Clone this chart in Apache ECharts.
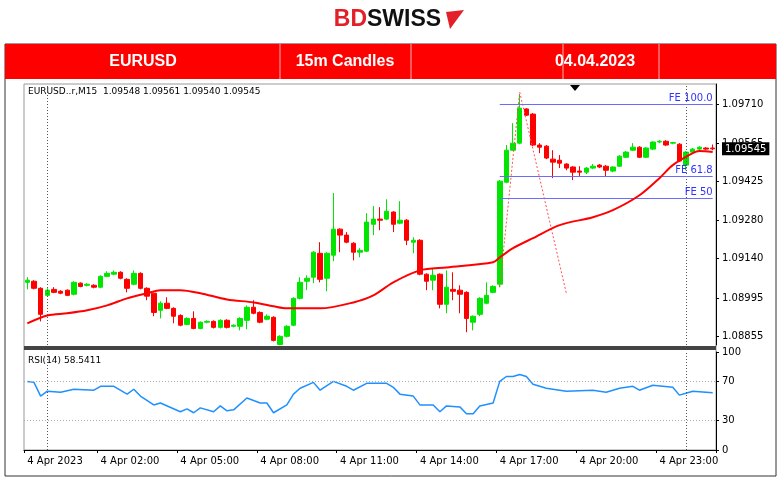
<!DOCTYPE html>
<html><head><meta charset="utf-8">
<script src="https://cdn.jsdelivr.net/npm/echarts@6/dist/echarts.min.js"></script>
<style>html,body{margin:0;padding:0;background:#fff}#c{width:780px;height:483px}</style>
</head><body><div id="c"></div>
<script>
const openP=[1.09053,1.09057,1.09031,1.09005,1.09027,1.09020,1.09024,1.09009,1.09050,1.09042,1.09042,1.09035,1.09075,1.09083,1.09090,1.09064,1.09046,1.09086,1.09031,1.09013,1.08950,1.08976,1.08957,1.08931,1.08898,1.08920,1.08883,1.08906,1.08909,1.08887,1.08913,1.08891,1.08891,1.08913,1.08961,1.08942,1.08917,1.08924,1.08824,1.08854,1.08895,1.08994,1.09057,1.09072,1.09160,1.09068,1.09153,1.09249,1.09227,1.09197,1.09164,1.09168,1.09267,1.09286,1.09286,1.09312,1.09271,1.09282,1.09201,1.09208,1.09083,1.09061,1.09083,1.08972,1.09027,1.09024,1.09016,1.08906,1.08935,1.08976,1.09016,1.09046,1.09422,1.09540,1.09566,1.09692,1.09673,1.09559,1.09555,1.09507,1.09503,1.09489,1.09478,1.09463,1.09459,1.09474,1.09485,1.09481,1.09463,1.09481,1.09514,1.09540,1.09551,1.09514,1.09544,1.09570,1.09573,1.09566,1.09562,1.09485,1.09533,1.09544,1.09548,1.09548];
const highP=[1.09072,1.09061,1.09035,1.09031,1.09035,1.09024,1.09027,1.09057,1.09053,1.09050,1.09046,1.09079,1.09094,1.09097,1.09094,1.09068,1.09097,1.09090,1.09035,1.09016,1.08983,1.08998,1.08961,1.08935,1.08924,1.08946,1.08909,1.08913,1.08913,1.08917,1.08917,1.08898,1.08924,1.08968,1.08987,1.08946,1.08935,1.08928,1.08858,1.08895,1.08998,1.09072,1.09079,1.09168,1.09201,1.09164,1.09382,1.09252,1.09238,1.09201,1.09179,1.09308,1.09334,1.09330,1.09359,1.09315,1.09352,1.09286,1.09219,1.09212,1.09086,1.09105,1.09086,1.09097,1.09090,1.09042,1.09020,1.08931,1.08998,1.09053,1.09042,1.09430,1.09559,1.09640,1.09747,1.09695,1.09677,1.09566,1.09559,1.09540,1.09522,1.09492,1.09481,1.09481,1.09478,1.09489,1.09489,1.09485,1.09481,1.09522,1.09537,1.09566,1.09555,1.09551,1.09573,1.09577,1.09577,1.09570,1.09566,1.09537,1.09548,1.09555,1.09551,1.09561];
const lowP=[1.09027,1.09027,1.08909,1.09002,1.09013,1.09009,1.09002,1.09005,1.09035,1.09038,1.09031,1.09031,1.09072,1.09079,1.09064,1.09016,1.09042,1.09027,1.08987,1.08928,1.08920,1.08954,1.08902,1.08891,1.08895,1.08880,1.08880,1.08902,1.08883,1.08883,1.08883,1.08887,1.08876,1.08880,1.08935,1.08902,1.08913,1.08835,1.08821,1.08850,1.08891,1.08990,1.09024,1.09050,1.09053,1.09020,1.09131,1.09164,1.09197,1.09134,1.09145,1.09164,1.09227,1.09245,1.09282,1.09238,1.09267,1.09190,1.09160,1.09079,1.09024,1.09024,1.08957,1.08939,1.08987,1.08939,1.08869,1.08876,1.08928,1.08972,1.09013,1.09035,1.09418,1.09537,1.09562,1.09666,1.09555,1.09529,1.09507,1.09437,1.09474,1.09466,1.09430,1.09441,1.09452,1.09470,1.09474,1.09444,1.09459,1.09478,1.09511,1.09537,1.09511,1.09511,1.09540,1.09566,1.09555,1.09562,1.09496,1.09466,1.09529,1.09540,1.09540,1.09540];
const closeP=[1.09061,1.09031,1.08935,1.09024,1.09016,1.09013,1.09005,1.09053,1.09038,1.09046,1.09035,1.09075,1.09086,1.09090,1.09068,1.09031,1.09086,1.09031,1.09002,1.08942,1.08976,1.08957,1.08928,1.08895,1.08920,1.08883,1.08906,1.08909,1.08887,1.08913,1.08887,1.08895,1.08920,1.08961,1.08939,1.08906,1.08928,1.08839,1.08854,1.08891,1.08994,1.09053,1.09068,1.09164,1.09064,1.09160,1.09249,1.09227,1.09201,1.09164,1.09171,1.09275,1.09286,1.09282,1.09315,1.09267,1.09282,1.09208,1.09208,1.09083,1.09057,1.09079,1.08972,1.09035,1.09020,1.09009,1.08920,1.08928,1.08994,1.09005,1.09038,1.09426,1.09540,1.09566,1.09695,1.09669,1.09559,1.09551,1.09511,1.09496,1.09492,1.09474,1.09459,1.09459,1.09474,1.09481,1.09478,1.09466,1.09478,1.09518,1.09533,1.09551,1.09514,1.09548,1.09570,1.09573,1.09559,1.09568,1.09500,1.09533,1.09544,1.09551,1.09544,1.09545];
const maReadings=[[0,1.08902],[3,1.08931],[6,1.08939],[9,1.08950],[12,1.08968],[15,1.08994],[18,1.09013],[20,1.09024],[23,1.09024],[26,1.09013],[30,1.08990],[34,1.08979],[37,1.08965],[39,1.08957],[44,1.08957],[49,1.08979],[52,1.09005],[55,1.09053],[59,1.09097],[63,1.09108],[70,1.09127],[71,1.09145],[73,1.09179],[76,1.09216],[80,1.09264],[85,1.09293],[88,1.09319],[92,1.09374],[95,1.09437],[97,1.09485],[100,1.09529],[101,1.09537],[103,1.09533]];
const rsiReadings=[[0,70],[1,69],[2,55],[3,60],[5,59],[7,62],[10,61],[11,65],[13,65],[15,57],[16,62],[17,55],[19,46],[20,48],[23,39],[24,42],[25,38],[26,43],[28,39],[29,45],[30,40],[31,41],[33,53],[35,48],[36,48],[37,38],[39,46],[40,57],[41,63],[43,69],[44,61],[46,70],[48,65],[49,61],[51,68],[54,68],[55,64],[56,57],[58,55],[59,46],[61,46],[62,39],[63,45],[65,44],[66,37],[67,37],[68,45],[70,48],[71,70],[72,75],[73,75],[74,77],[75,75],[76,67],[78,63],[81,60],[85,61],[87,59],[89,63],[91,65],[92,61],[94,66],[97,64],[98,56],[99,58],[100,60],[103,58.5411]];
const fiboPath=[[71,1.09035],[74,1.09754],[81,1.09013]];
const feLevels=[["FE 100.0",1.09710],["FE 61.8",1.09444],["FE 50",1.09363]];
const priceTicks=[1.09710,1.09565,1.09425,1.09280,1.09140,1.08995,1.08855];
const rsiTicks=[100,70,30,0];
const lastPrice=1.09545;
const timeLabels={0:"4 Apr 2023",11:"4 Apr 02:00",23:"4 Apr 05:00",35:"4 Apr 08:00",47:"4 Apr 11:00",59:"4 Apr 14:00",71:"4 Apr 17:00",83:"4 Apr 20:00",95:"4 Apr 23:00"};

const N=openP.length;
const cats=[];
for(let i=0;i<N;i++){const m=(23*60+15)+i*15;const h=Math.floor(m/60)%24,mm=m%60;cats.push(String(h).padStart(2,'0')+':'+String(mm).padStart(2,'0')+'#'+i);}
function sparse(arr){const a=new Array(N).fill(null);arr.forEach(([i,v])=>a[i]=v);return a;}
const kData=openP.map((o,i)=>[o,closeP[i],lowP[i],highP[i]]);
const fnt='Tahoma, "DejaVu Sans", sans-serif';
const chart=echarts.init(document.getElementById('c'));
chart.setOption({
animation:false,
grid:[{left:24,right:64,top:84,height:261},{left:24,right:64,top:352,height:98}],
xAxis:[
 {type:'category',gridIndex:0,data:cats,boundaryGap:true,axisLine:{show:false},axisTick:{show:false},axisLabel:{show:false}},
 {type:'category',gridIndex:1,data:cats,boundaryGap:true,axisLine:{lineStyle:{color:'#000'}},
  axisTick:{show:true,interval:(i)=>timeLabels[i]!==undefined,length:3,lineStyle:{color:'#000'}},
  axisLabel:{interval:(i)=>timeLabels[i]!==undefined,formatter:(v,i)=>timeLabels[i]||'',align:'left',margin:6,fontSize:10,color:'#000',fontFamily:fnt}}
],
yAxis:[
 {type:'value',gridIndex:0,position:'right',min:1.08822,max:1.09784,scale:true,splitLine:{show:false},
  axisLine:{show:true,lineStyle:{color:'#000'}},axisTick:{show:true,customValues:priceTicks,length:3,lineStyle:{color:'#000'}},
  axisLabel:{customValues:priceTicks.concat([lastPrice]),hideOverlap:false,fontSize:10,color:'#000',margin:6,fontFamily:fnt,
   formatter:v=>Math.abs(v-lastPrice)<1e-7?'{cur|'+v.toFixed(5)+'}':v.toFixed(5),
   rich:{cur:{color:'#fff',backgroundColor:'#000',padding:[2,3,1,3],fontSize:10,fontFamily:fnt}}}},
 {type:'value',gridIndex:1,position:'right',min:0,max:100,splitLine:{show:false},
  axisLine:{show:true,lineStyle:{color:'#000'}},axisTick:{show:true,customValues:rsiTicks,length:3,lineStyle:{color:'#000'}},
  axisLabel:{customValues:rsiTicks,fontSize:10,color:'#000',margin:6,fontFamily:fnt,formatter:v=>String(v)}}
],
series:[
 {type:'candlestick',xAxisIndex:0,yAxisIndex:0,data:kData,barWidth:5,
  itemStyle:{color:'#00e600',color0:'#ff0000',borderColor:'#00e600',borderColor0:'#ff0000',borderWidth:1},
  markLine:{symbol:'none',silent:true,
   data:[
    {yAxis:lastPrice,lineStyle:{color:'#000',width:1,type:'solid'},label:{show:false}},
    {xAxis:3,lineStyle:{color:'#555',type:[1,2],width:1},label:{show:false}},
    {xAxis:99,lineStyle:{color:'#555',type:[1,2],width:1},label:{show:false}},
    ...feLevels.map(([n,v])=>[{coord:[71,v],label:{show:true,formatter:n,position:'insideEndTop',color:'#3333ff',fontSize:10,distance:[0,1],fontFamily:fnt}},{coord:[103,v]}])
   ],
   lineStyle:{color:'#6b6bff',width:1,type:'solid'}}
 },
 {type:'line',xAxisIndex:0,yAxisIndex:0,data:sparse(maReadings),connectNulls:true,showSymbol:false,smooth:0.3,lineStyle:{color:'#ff0000',width:2},z:5},
 {type:'line',xAxisIndex:0,yAxisIndex:0,data:sparse(fiboPath),connectNulls:true,showSymbol:false,lineStyle:{color:'#ff5050',width:1,type:[2,2]},z:4},
 {type:'line',xAxisIndex:1,yAxisIndex:1,data:sparse(rsiReadings),connectNulls:true,showSymbol:false,lineStyle:{color:'#1e90ff',width:1.5},
  markLine:{symbol:'none',silent:true,label:{show:false},lineStyle:{color:'#aaa',type:[1,2],width:1},
   data:[{yAxis:70},{yAxis:30},{xAxis:3,lineStyle:{color:'#555'}},{xAxis:99,lineStyle:{color:'#555'}}]}}
],
graphic:[
 {type:'rect',shape:{x:5,y:44,width:771,height:432},style:{fill:'none',stroke:'#333',lineWidth:1},z:-1},
 {type:'rect',shape:{x:5,y:44,width:771,height:35},style:{fill:'#ff0000'},z:-1},
 ...[280,411,563,659].map(x=>({type:'line',shape:{x1:x,y1:44,x2:x,y2:79},style:{stroke:'#ffb0b0',lineWidth:1},z:0})),
 {type:'text',x:143,y:62,style:{text:'EURUSD',fill:'#fff',font:'bold 16px Arial, "Liberation Sans", sans-serif',textAlign:'center',textVerticalAlign:'middle'}},
 {type:'text',x:345,y:62,style:{text:'15m Candles',fill:'#fff',font:'bold 16px Arial, "Liberation Sans", sans-serif',textAlign:'center',textVerticalAlign:'middle'}},
 {type:'text',x:595,y:62,style:{text:'04.04.2023',fill:'#fff',font:'bold 16px Arial, "Liberation Sans", sans-serif',textAlign:'center',textVerticalAlign:'middle'}},
 {type:'text',x:367,y:20,style:{text:'BD',fill:'#e3202a',font:'bold 23px Arial, "Liberation Sans", sans-serif',textAlign:'right',textVerticalAlign:'middle'}},
 {type:'text',x:367,y:20,style:{text:'SWISS',fill:'#111',font:'bold 23px Arial, "Liberation Sans", sans-serif',textAlign:'left',textVerticalAlign:'middle'}},
 {type:'polygon',shape:{points:[[446,12],[464,10],[450,29]]},style:{fill:'#e3202a'}},
 {type:'rect',shape:{x:24,y:84,width:692,height:366},style:{fill:'none',stroke:'#999',lineWidth:1},z:-1},
 {type:'rect',shape:{x:24,y:346,width:692,height:4},style:{fill:'#444'}},
 {type:'polygon',shape:{points:[[570,85],[580,85],[575,91]]},style:{fill:'#000'}},
 {type:'text',x:28,y:92,style:{text:'EURUSD..r,M15  1.09548 1.09561 1.09540 1.09545',fill:'#000',font:'9px Tahoma, "DejaVu Sans", sans-serif',textVerticalAlign:'middle'}},
 {type:'text',x:28,y:361,style:{text:'RSI(14) 58.5411',fill:'#000',font:'9px Tahoma, "DejaVu Sans", sans-serif',textVerticalAlign:'middle'}}
]
});
</script></body></html>
